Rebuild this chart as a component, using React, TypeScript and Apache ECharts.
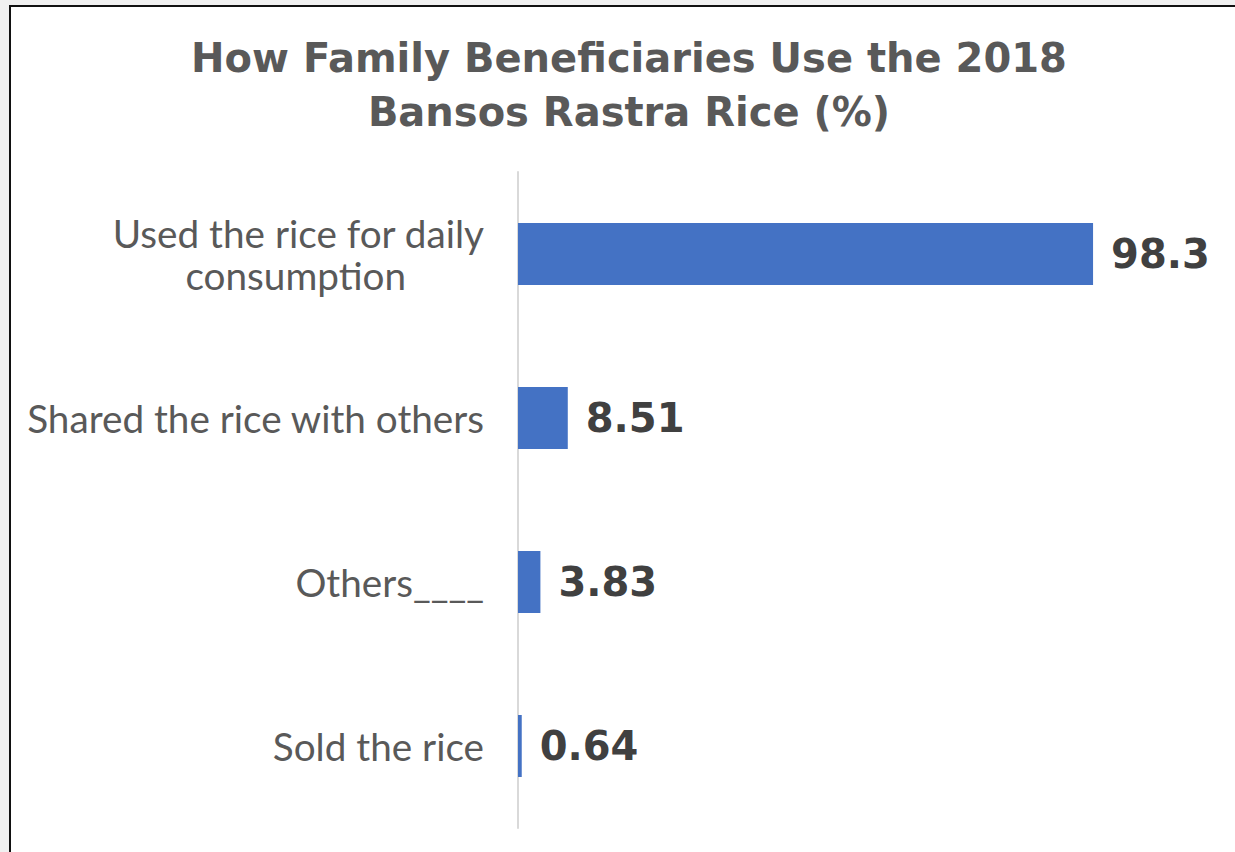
import React, { useEffect, useRef } from "react";
import * as echarts from "echarts";

const titleLines = ["How Family Beneficiaries Use the 2018", "Bansos Rastra Rice (%)"];
const categories = [
  "Used the rice for daily consumption",
  "Shared the rice with others",
  "Others____",
  "Sold the rice",
];
const values = [98.3, 8.51, 3.83, 0.64];
const valueLabels = ["98.3", "8.51", "3.83", "0.64"];

export default function App() {
  const ref = useRef<HTMLDivElement>(null);
  useEffect(() => {
    if (!ref.current) return;
    const chart = echarts.init(ref.current, null, { renderer: "svg" });
    const cats = [...categories].reverse();
    const vals = [...values].reverse();
    const labs = [...valueLabels].reverse();
    chart.setOption({
      animation: false,
      backgroundColor: "transparent",
      title: {
        text: titleLines.join("\n"),
        left: 624,
        textAlign: "center",
        top: 26,
        textStyle: {
          fontFamily: "DejaVu Sans",
          fontWeight: "bold",
          fontSize: 40,
          lineHeight: 54,
          color: "#595959",
        },
      },
      grid: { left: 518, top: 172, height: 656, right: 132 },
      xAxis: {
        type: "value",
        min: 0,
        max: 100,
        show: false,
      },
      yAxis: {
        type: "category",
        data: cats,
        axisLine: { show: true, lineStyle: { color: "#d9d9d9", width: 2 } },
        axisTick: { show: false },
        axisLabel: {
          margin: 34,
          fontFamily: "Lato",
          fontSize: 38.7,
          color: "#595959",
          lineHeight: 42,
          formatter: (v: string) =>
            v === "Used the rice for daily consumption"
              ? "{a|Used the rice for daily}\n{b|consumption}"
              : "{a|" + v + "}",
          rich: {
            a: { fontFamily: "Lato", fontSize: 38.7, color: "#595959", lineHeight: 42 },
            b: { fontFamily: "Lato", fontSize: 38.7, color: "#595959", lineHeight: 42, padding: [0, 78, 0, 0] },
          },
        },
      },
      series: [
        {
          type: "bar",
          data: vals,
          barWidth: 62,
          itemStyle: { color: "#4472c4" },
          label: {
            show: true,
            position: "right",
            distance: 18,
            formatter: (p: any) => labs[p.dataIndex],
            fontFamily: "DejaVu Sans",
            fontWeight: "bold",
            fontSize: 40,
            color: "#404040",
          },
        },
      ],
    });
    return () => chart.dispose();
  }, []);
  return (
    <div style={{ position: "fixed", inset: 0, background: "#f0f0f0", overflow: "hidden" }}>
      <div
        style={{
          position: "absolute",
          left: 9,
          top: 5,
          width: 1300,
          height: 900,
          background: "#ffffff",
          border: "2px solid #111",
        }}
      />
      <div ref={ref} style={{ position: "absolute", left: 0, top: 0, width: 1235, height: 852 }} />
    </div>
  );
}
